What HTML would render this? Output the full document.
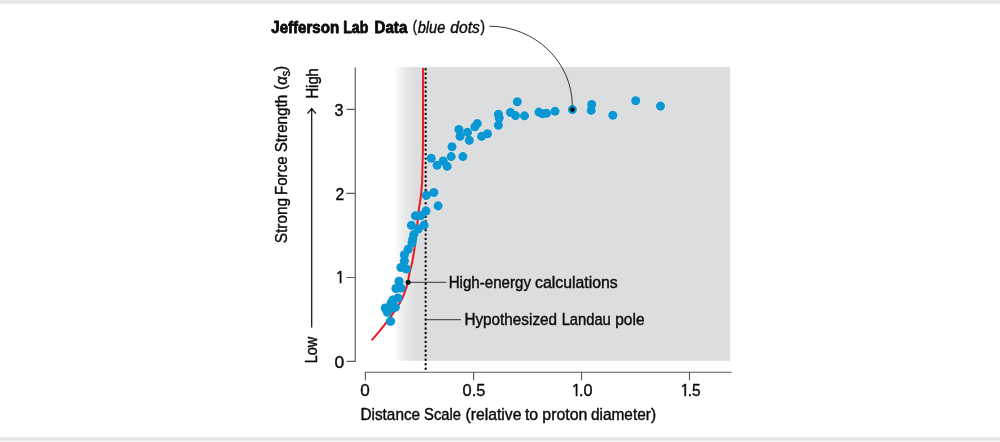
<!DOCTYPE html>
<html><head><meta charset="utf-8"><title>Strong force chart</title>
<style>
html,body{margin:0;padding:0;background:#fff;}
body{width:1000px;height:442px;overflow:hidden;position:relative;}
.bar{position:absolute;left:0;width:1000px;background:#e5e5e6;}
svg{position:absolute;left:0;top:0;}
text{font-family:"Liberation Sans",sans-serif;fill:#0a0a0a;stroke:#0a0a0a;stroke-width:0.4px;stroke-linejoin:round;}
</style></head><body>
<div class="bar" style="top:0;height:4px;background:linear-gradient(to bottom,#eee 0,#eee 1px,#e5e5e5 1px,#e4e4e4 3px,#f1f1f1 3px,#f1f1f1 4px)"></div>
<div class="bar" style="top:437px;height:5px;background:linear-gradient(to bottom,#ececec 0,#ececec 1px,#e5e5e6 1px,#e4e4e6 3px,#ececed 3px,#ececed 4px,#fafafa 4px,#fafafa 5px)"></div>
<svg width="1000" height="442" viewBox="0 0 1000 442">
<defs>
<linearGradient id="g" x1="0" x2="1" y1="0" y2="0">
<stop offset="0" stop-color="#dcddde" stop-opacity="0"/>
<stop offset="0.45" stop-color="#dcddde" stop-opacity="0.6"/>
<stop offset="1" stop-color="#dcddde" stop-opacity="1"/>
</linearGradient>
</defs>
<rect x="394.3" y="66.9" width="21.7" height="293.9" fill="url(#g)"/>
<rect x="415.9" y="66.9" width="314.3" height="293.9" fill="#dcddde"/>
<!-- axes -->
<g stroke="#5a5a5a" stroke-width="1.15" fill="none">
<path d="M355.25 67.5V361.9M346.6 109.35H355.25M346.4 193.4H355.25M346.4 277.5H355.25M346.6 361.3H355.25"/>
<path d="M365 372.25H731.8M365.4 372.3V380.2M473.6 372.3V380.2M581.5 372.3V380.2M689.5 372.3V380.2"/>
</g>
<g fill="#f0e9e6" fill-opacity="0.75">
<circle cx="517.3" cy="101.7" r="5.35"/>
<circle cx="510.4" cy="112.4" r="5.35"/>
<circle cx="515.5" cy="115.6" r="5.35"/>
<circle cx="524.5" cy="115.9" r="5.35"/>
<circle cx="538.9" cy="112.1" r="5.35"/>
<circle cx="542.4" cy="113.8" r="5.35"/>
<circle cx="546.5" cy="113.2" r="5.35"/>
<circle cx="555.0" cy="111.2" r="5.35"/>
<circle cx="498.4" cy="114.3" r="5.35"/>
<circle cx="499.2" cy="118.0" r="5.35"/>
<circle cx="498.4" cy="125.2" r="5.35"/>
<circle cx="477.3" cy="123.6" r="5.35"/>
<circle cx="474.9" cy="126.8" r="5.35"/>
<circle cx="458.9" cy="129.5" r="5.35"/>
<circle cx="467.5" cy="132.4" r="5.35"/>
<circle cx="460.0" cy="136.4" r="5.35"/>
<circle cx="469.3" cy="140.4" r="5.35"/>
<circle cx="481.6" cy="136.4" r="5.35"/>
<circle cx="487.5" cy="133.7" r="5.35"/>
<circle cx="452.0" cy="146.8" r="5.35"/>
<circle cx="451.2" cy="156.6" r="5.35"/>
<circle cx="462.9" cy="156.6" r="5.35"/>
<circle cx="431.2" cy="158.2" r="5.35"/>
<circle cx="443.2" cy="161.0" r="5.35"/>
<circle cx="437.1" cy="165.3" r="5.35"/>
<circle cx="447.2" cy="166.4" r="5.35"/>
<circle cx="433.9" cy="192.5" r="5.35"/>
<circle cx="426.4" cy="195.4" r="5.35"/>
<circle cx="438.1" cy="205.9" r="5.35"/>
<circle cx="426.0" cy="211.0" r="5.35"/>
<circle cx="415.4" cy="215.9" r="5.35"/>
<circle cx="421.0" cy="215.6" r="5.35"/>
<circle cx="411.4" cy="225.4" r="5.35"/>
<circle cx="424.1" cy="225.1" r="5.35"/>
<circle cx="418.3" cy="229.0" r="5.35"/>
<circle cx="413.8" cy="234.6" r="5.35"/>
<circle cx="412.7" cy="239.3" r="5.35"/>
<circle cx="412.0" cy="243.0" r="5.35"/>
<circle cx="408.2" cy="249.2" r="5.35"/>
<circle cx="404.4" cy="254.8" r="5.35"/>
<circle cx="404.4" cy="261.0" r="5.35"/>
<circle cx="401.0" cy="267.5" r="5.35"/>
<circle cx="406.5" cy="269.0" r="5.35"/>
<circle cx="399.1" cy="281.3" r="5.35"/>
<circle cx="396.0" cy="288.5" r="5.35"/>
<circle cx="401.0" cy="288.0" r="5.35"/>
<circle cx="398.0" cy="298.0" r="5.35"/>
<circle cx="393.0" cy="300.0" r="5.35"/>
<circle cx="391.2" cy="303.0" r="5.35"/>
<circle cx="395.3" cy="307.2" r="5.35"/>
<circle cx="385.3" cy="308.0" r="5.35"/>
<circle cx="390.6" cy="308.4" r="5.35"/>
<circle cx="387.5" cy="312.3" r="5.35"/>
<circle cx="390.5" cy="321.2" r="5.35"/>
<circle cx="572.4" cy="109.6" r="5.35"/>
<circle cx="591.7" cy="104.5" r="5.35"/>
<circle cx="591.2" cy="110.4" r="5.35"/>
<circle cx="612.8" cy="115.2" r="5.35"/>
<circle cx="635.7" cy="100.8" r="5.35"/>
<circle cx="660.5" cy="106.1" r="5.35"/>
</g>
<!-- red curve -->
<path d="M423.1 68.0 C423.0 78.3 423.0 115.5 423.0 130.0 C423.0 144.5 422.9 148.3 422.8 155.0 C422.7 161.7 422.5 165.8 422.4 170.0 C422.3 174.2 422.3 176.7 422.2 180.0 C422.1 183.3 421.8 186.7 421.5 190.0 C421.2 193.3 420.8 196.7 420.4 200.0 C419.9 203.3 419.4 205.2 418.8 210.0 C418.2 214.8 417.5 222.7 416.8 229.0 C416.1 235.3 415.4 242.2 414.6 247.7 C413.8 253.2 413.1 257.6 412.2 262.1 C411.3 266.7 409.8 271.6 409.1 275.0 C408.4 278.4 408.7 279.2 407.9 282.2 C407.1 285.2 405.6 289.8 404.4 293.1 C403.1 296.4 402.4 298.5 400.4 302.1 C398.4 305.7 395.1 310.5 392.2 314.6 C389.3 318.7 385.8 323.3 383.1 326.7 C380.5 330.1 378.2 332.6 376.3 334.9 C374.4 337.2 372.3 339.4 371.5 340.3" fill="none" stroke="#ec1c24" stroke-width="2.05"/>
<!-- dotted -->
<path d="M425.65 69.2V368.9" fill="none" stroke="#111" stroke-width="2.4" stroke-dasharray="0.01 4.46" stroke-linecap="round"/>
<!-- dots -->
<g fill="#0998d4">
<circle cx="517.3" cy="101.7" r="4.55"/>
<circle cx="510.4" cy="112.4" r="4.55"/>
<circle cx="515.5" cy="115.6" r="4.55"/>
<circle cx="524.5" cy="115.9" r="4.55"/>
<circle cx="538.9" cy="112.1" r="4.55"/>
<circle cx="542.4" cy="113.8" r="4.55"/>
<circle cx="546.5" cy="113.2" r="4.55"/>
<circle cx="555.0" cy="111.2" r="4.55"/>
<circle cx="498.4" cy="114.3" r="4.55"/>
<circle cx="499.2" cy="118.0" r="4.55"/>
<circle cx="498.4" cy="125.2" r="4.55"/>
<circle cx="477.3" cy="123.6" r="4.55"/>
<circle cx="474.9" cy="126.8" r="4.55"/>
<circle cx="458.9" cy="129.5" r="4.55"/>
<circle cx="467.5" cy="132.4" r="4.55"/>
<circle cx="460.0" cy="136.4" r="4.55"/>
<circle cx="469.3" cy="140.4" r="4.55"/>
<circle cx="481.6" cy="136.4" r="4.55"/>
<circle cx="487.5" cy="133.7" r="4.55"/>
<circle cx="452.0" cy="146.8" r="4.55"/>
<circle cx="451.2" cy="156.6" r="4.55"/>
<circle cx="462.9" cy="156.6" r="4.55"/>
<circle cx="431.2" cy="158.2" r="4.55"/>
<circle cx="443.2" cy="161.0" r="4.55"/>
<circle cx="437.1" cy="165.3" r="4.55"/>
<circle cx="447.2" cy="166.4" r="4.55"/>
<circle cx="433.9" cy="192.5" r="4.55"/>
<circle cx="426.4" cy="195.4" r="4.55"/>
<circle cx="438.1" cy="205.9" r="4.55"/>
<circle cx="426.0" cy="211.0" r="4.55"/>
<circle cx="415.4" cy="215.9" r="4.55"/>
<circle cx="421.0" cy="215.6" r="4.55"/>
<circle cx="411.4" cy="225.4" r="4.55"/>
<circle cx="424.1" cy="225.1" r="4.55"/>
<circle cx="418.3" cy="229.0" r="4.55"/>
<circle cx="413.8" cy="234.6" r="4.55"/>
<circle cx="412.7" cy="239.3" r="4.55"/>
<circle cx="412.0" cy="243.0" r="4.55"/>
<circle cx="408.2" cy="249.2" r="4.55"/>
<circle cx="404.4" cy="254.8" r="4.55"/>
<circle cx="404.4" cy="261.0" r="4.55"/>
<circle cx="401.0" cy="267.5" r="4.55"/>
<circle cx="406.5" cy="269.0" r="4.55"/>
<circle cx="399.1" cy="281.3" r="4.55"/>
<circle cx="396.0" cy="288.5" r="4.55"/>
<circle cx="401.0" cy="288.0" r="4.55"/>
<circle cx="398.0" cy="298.0" r="4.55"/>
<circle cx="393.0" cy="300.0" r="4.55"/>
<circle cx="391.2" cy="303.0" r="4.55"/>
<circle cx="395.3" cy="307.2" r="4.55"/>
<circle cx="385.3" cy="308.0" r="4.55"/>
<circle cx="390.6" cy="308.4" r="4.55"/>
<circle cx="387.5" cy="312.3" r="4.55"/>
<circle cx="390.5" cy="321.2" r="4.55"/>
<circle cx="572.4" cy="109.6" r="4.55"/>
<circle cx="591.7" cy="104.5" r="4.55"/>
<circle cx="591.2" cy="110.4" r="4.55"/>
<circle cx="612.8" cy="115.2" r="4.55"/>
<circle cx="635.7" cy="100.8" r="4.55"/>
<circle cx="660.5" cy="106.1" r="4.55"/>
</g>
<!-- annotations -->
<g stroke="#222" stroke-width="0.9" fill="none">
<path d="M408.2 282.3H446.5M425.7 319.7H461"/>
<path d="M489.4 26.2C535 26.2 572.3 62 572.3 105.8"/>
</g>
<g stroke="#111" stroke-width="1.25" fill="none">
<path d="M311.7 327.5V108.8M307.5 113.6L311.7 108.5L315.9 113.6"/>
</g>
<circle cx="408.1" cy="282.3" r="2.55" fill="#111"/>
<circle cx="572.4" cy="109.6" r="2.45" fill="#111"/>
<!-- text -->
<text y="32.6" font-size="16.3"><tspan x="271.27" font-weight="bold" style="stroke-width:0.8px" textLength="67.90" lengthAdjust="spacingAndGlyphs">Jefferson</tspan> <tspan x="343.23" font-weight="bold" style="stroke-width:0.8px" textLength="25.18" lengthAdjust="spacingAndGlyphs">Lab</tspan> <tspan x="374.57" font-weight="bold" style="stroke-width:0.8px" textLength="32.74" lengthAdjust="spacingAndGlyphs">Data</tspan> <tspan x="412.72" y="31.90"  textLength="4.21" lengthAdjust="spacingAndGlyphs">(</tspan><tspan x="417.68" y="32.60" font-style="italic" textLength="27.61" lengthAdjust="spacingAndGlyphs">blue</tspan> <tspan x="450.32" font-style="italic" textLength="29.65" lengthAdjust="spacingAndGlyphs">dots</tspan><tspan x="480.59" y="31.90"  textLength="4.47" lengthAdjust="spacingAndGlyphs">)</tspan></text>
<text y="288.00" font-size="16.3" ><tspan x="448.64"  textLength="82.35" lengthAdjust="spacingAndGlyphs">High-energy</tspan> <tspan x="535.07"  textLength="82.69" lengthAdjust="spacingAndGlyphs">calculations</tspan></text>
<text y="325.40" font-size="16.3" ><tspan x="464.43"  textLength="92.62" lengthAdjust="spacingAndGlyphs">Hypothesized</tspan> <tspan x="561.67"  textLength="49.12" lengthAdjust="spacingAndGlyphs">Landau</tspan> <tspan x="615.25"  textLength="29.31" lengthAdjust="spacingAndGlyphs">pole</tspan></text>
<text y="420.10" font-size="16.3" ><tspan x="360.42"  textLength="59.75" lengthAdjust="spacingAndGlyphs">Distance</tspan> <tspan x="424.12"  textLength="36.95" lengthAdjust="spacingAndGlyphs">Scale</tspan> <tspan x="465.43"  textLength="56.02" lengthAdjust="spacingAndGlyphs">(relative</tspan> <tspan x="524.96"  textLength="13.22" lengthAdjust="spacingAndGlyphs">to</tspan> <tspan x="542.33"  textLength="44.97" lengthAdjust="spacingAndGlyphs">proton</tspan> <tspan x="590.89"  textLength="65.29" lengthAdjust="spacingAndGlyphs">diameter)</tspan></text>
<text y="395.90" font-size="17.2" ><tspan x="360.35"  textLength="9.50" lengthAdjust="spacingAndGlyphs">0</tspan></text>
<text y="395.90" font-size="17.2" ><tspan x="462.59"  textLength="22.74" lengthAdjust="spacingAndGlyphs">0.5</tspan></text>
<text y="395.9" font-size="17.2"><tspan x="571.0" style="font-family:NanumGothic,'Liberation Sans',sans-serif;stroke-width:0.6px" font-size="16.6">1</tspan><tspan x="579.08"  textLength="13.58" lengthAdjust="spacingAndGlyphs">.0</tspan></text>
<text y="395.9" font-size="17.2"><tspan x="679.8" style="font-family:NanumGothic,'Liberation Sans',sans-serif;stroke-width:0.6px" font-size="16.6">1</tspan><tspan x="687.75"  textLength="12.91" lengthAdjust="spacingAndGlyphs">.5</tspan></text>
<text y="367.70" font-size="17.2" ><tspan x="334.64"  textLength="9.74" lengthAdjust="spacingAndGlyphs">0</tspan></text>
<text x="334.9" y="282.6" style="font-family:NanumGothic,'Liberation Sans',sans-serif;stroke-width:0.6px" font-size="16.6">1</text>
<text y="199.70" font-size="17.2" ><tspan x="335.52"  textLength="8.73" lengthAdjust="spacingAndGlyphs">2</tspan></text>
<text y="116.30" font-size="17.2" ><tspan x="334.40"  textLength="8.96" lengthAdjust="spacingAndGlyphs">3</tspan></text>
<text transform="translate(287.30 242.80) rotate(-90)" font-size="17.0"><tspan x="-0.48" textLength="45.47" lengthAdjust="spacingAndGlyphs">Strong</tspan> <tspan x="47.79" textLength="38.65" lengthAdjust="spacingAndGlyphs">Force</tspan> <tspan x="90.53" textLength="57.48" lengthAdjust="spacingAndGlyphs">Strength</tspan></text>
<text transform="translate(285.8 90) rotate(-90)" font-size="17.2" textLength="24.2" lengthAdjust="spacingAndGlyphs">(<tspan font-style="italic" font-size="16.6" dy="1">α</tspan><tspan font-size="12" dy="2.8">s</tspan><tspan dy="-3.8">)</tspan></text>
<text transform="translate(317.70 97.70) rotate(-90)" font-size="17.0"><tspan x="-0.89" textLength="30.43" lengthAdjust="spacingAndGlyphs">High</tspan></text>
<text transform="translate(316.70 362.50) rotate(-90)" font-size="17.0"><tspan x="-0.87" textLength="26.61" lengthAdjust="spacingAndGlyphs">Low</tspan></text>
</svg>
</body></html>
